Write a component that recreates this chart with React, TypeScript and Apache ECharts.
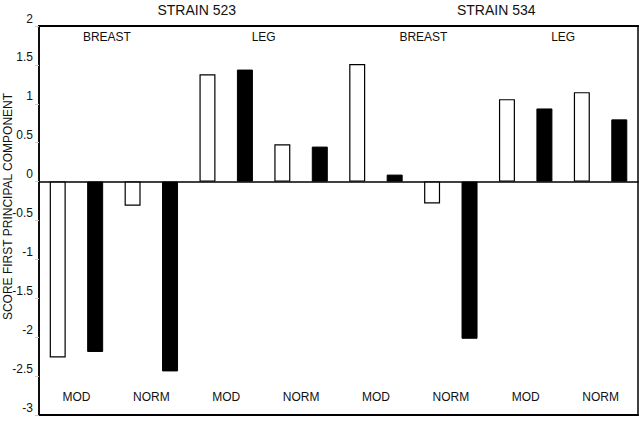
import React, { useEffect, useRef } from "react";
import * as echarts from "echarts";

const categories = ["MOD", "NORM", "MOD", "NORM", "MOD", "NORM", "MOD", "NORM"];
const tissues = ["BREAST", "LEG", "BREAST", "LEG"];
const strains = ["STRAIN 523", "STRAIN 534"];
const halfTicks = ["1a", "1b", "2a", "2b", "3a", "3b", "4a", "4b", "5a", "5b", "6a", "6b", "7a", "7b", "8a", "8b"];
const whiteValues = [-2.26, -0.31, 1.38, 0.48, 1.51, -0.28, 1.06, 1.15];
const blackValues = [-2.19, -2.44, 1.44, 0.45, 0.09, -2.02, 0.94, 0.8];

const FONT = "'Liberation Sans', Arial, sans-serif";

export default function App() {
  const ref = useRef<HTMLDivElement>(null);
  useEffect(() => {
    document.body.style.margin = "0";
    const chart = echarts.init(ref.current!, null, { renderer: "svg" });
    const tissueRich = {
      t0: { padding: [0, 14, 0, 0], fontSize: 12, color: "#111", fontFamily: FONT },
      t1: { padding: [0, 0, 0, 0], fontSize: 12, color: "#111", fontFamily: FONT },
      t2: { padding: [0, 0, 0, 20], fontSize: 12, color: "#111", fontFamily: FONT },
      t3: { padding: [0, 0, 0, 0], fontSize: 12, color: "#111", fontFamily: FONT },
    };
    chart.setOption({
      animation: false,
      textStyle: { fontFamily: FONT },
      grid: {
        left: 39,
        right: 2,
        top: 26,
        bottom: 6,
        containLabel: false,
        outerBoundsMode: "none",
        show: true,
        borderColor: "#000",
        borderWidth: 1.5,
        backgroundColor: "transparent",
      },
      xAxis: [
        {
          type: "category",
          data: categories,
          position: "bottom",
          axisLine: { onZero: false, lineStyle: { color: "#000", width: 2 } },
          axisTick: { inside: true, length: 10, lineStyle: { color: "#000", width: 2 } },
          axisLabel: { inside: true, margin: 12, color: "#111", fontSize: 12, fontFamily: FONT },
          splitLine: { show: false },
        },
        {
          type: "category",
          data: halfTicks,
          position: "bottom",
          axisLine: { onZero: true, lineStyle: { color: "#000", width: 1.5 } },
          axisTick: { length: 4, lineStyle: { color: "#c8c8c8", width: 1 } },
          axisLabel: { show: false },
          splitLine: { show: false },
        },
        {
          type: "category",
          data: tissues,
          position: "top",
          axisLine: { onZero: false, lineStyle: { color: "#000", width: 2 } },
          axisTick: { inside: true, length: 11, lineStyle: { color: "#000", width: 2 } },
          axisLabel: {
            inside: true,
            margin: 5,
            color: "#111",
            fontSize: 12,
            fontFamily: FONT,
            formatter: (v: string, i: number) => `{t${i}|${v}}`,
            rich: tissueRich,
          },
          splitLine: { show: false },
        },
        {
          type: "category",
          data: strains,
          position: "top",
          axisLine: { onZero: false, lineStyle: { color: "#000", width: 2 } },
          axisTick: { inside: false, length: 8, lineStyle: { color: "#000", width: 2 } },
          axisLabel: { margin: 9, color: "#111", fontSize: 14, fontFamily: FONT, padding: [0, 0, 0, 16] },
          splitLine: { show: false },
        },
      ],
      yAxis: {
        type: "value",
        min: -3,
        max: 2,
        interval: 0.5,
        name: "SCORE FIRST PRINCIPAL COMPONENT",
        nameLocation: "middle",
        nameGap: 25,
        nameMoveOverlap: false,
        nameTextStyle: { color: "#111", fontSize: 12, fontFamily: FONT, padding: [0, 0, 0, 28] },
        axisLine: { show: true, lineStyle: { color: "#000", width: 1.5 } },
        axisTick: { show: true, length: 4, lineStyle: { color: "#c8c8c8", width: 1 } },
        axisLabel: { color: "#111", fontSize: 12, fontFamily: FONT, margin: 6, verticalAlign: "bottom", lineHeight: 15 },
        splitLine: { show: false },
      },
      series: [
        {
          type: "bar",
          data: whiteValues,
          barWidth: 16,
          barGap: "134%",
          itemStyle: { color: "#fff", borderColor: "#000", borderWidth: 1.2 },
        },
        {
          type: "bar",
          data: blackValues,
          barWidth: 16,
          barGap: "134%",
          itemStyle: { color: "#000", borderColor: "#000", borderWidth: 1 },
        },
      ],
    });
    return () => chart.dispose();
  }, []);
  return <div ref={ref} style={{ width: 640, height: 421 }} />;
}
